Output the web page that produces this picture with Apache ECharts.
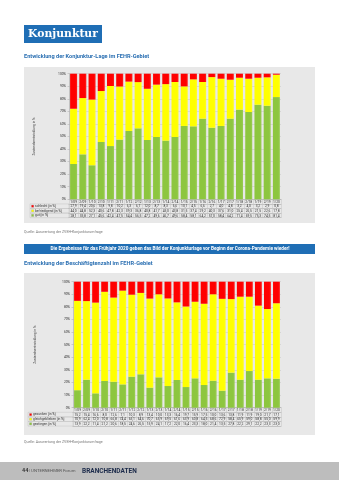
<!DOCTYPE html>
<html><head><meta charset="utf-8">
<script src="https://cdn.jsdelivr.net/npm/echarts@6/dist/echarts.min.js"></script>
<style>html,body{margin:0;padding:0;background:#fff}#c{width:339px;height:480px}</style>
</head><body><div id="c"></div>
<script>
const categories = ['1/09','2/09','1/10','2/10','1/11','2/11','1/12','2/12','1/13','2/13','1/14','2/14','1/15','2/15','1/16','2/16','1/17','2/17','1/18','2/18','1/19','2/19','1/20'];
// Chart 1: Konjunktur-Lage
const schlecht     = [27.9,19.4,20.6,13.8,9.8,10.2,6.3,6.7,12.0,8.7,8.3,6.6,10.1,4.5,6.6,2.7,4.0,4.8,3.2,4.0,3.2,2.9,0.8];
const befriedigend = [44.0,44.8,52.3,40.6,47.8,42.3,39.3,36.8,40.8,41.7,45.0,43.8,31.5,37.4,29.2,40.3,37.6,31.0,25.4,26.5,21.5,22.6,17.8];
const gut          = [28.1,35.8,27.1,45.6,42.4,47.5,54.4,56.5,47.2,49.6,46.7,49.6,58.4,58.1,64.2,57.0,58.4,64.2,71.4,69.5,75.3,74.5,81.4];
// Chart 2: Beschäftigtenzahl
const gesunken        = [15.2,15.4,16.6,8.0,12.6,7.1,10.3,8.9,13.4,10.0,13.3,16.4,19.7,15.9,17.5,10.0,13.6,13.8,11.9,11.9,19.0,21.7,17.1];
const gleichgeblieben = [70.9,62.4,72.0,70.8,66.8,74.4,65.1,64.6,70.7,65.9,69.5,61.6,63.9,60.8,64.5,68.6,72.9,58.4,65.9,59.0,58.8,55.0,59.9];
const gestiegen       = [13.9,22.2,11.4,21.2,20.6,18.5,24.6,26.5,15.9,24.1,17.2,22.0,16.4,23.3,18.0,21.4,13.5,27.8,22.2,29.1,22.2,23.3,23.0];

const RED='#ff0000', YEL='#ffff00', GRN='#8dc63f';
const FONT='Roboto, "Noto Sans", sans-serif';
const fmt = v => v.toFixed(1).replace('.', ',');
const RH = 4.6;

const grids = [
  {left:69, right:58, top:73.7, height:125.6},
  {left:73, right:58, top:281.7, height:126}
];

function barColor(c){
  return {type:'linear',x:0,y:0,x2:1,y2:0,colorStops:[
    {offset:0,color:c},{offset:0.75,color:c},{offset:1,color:echarts.color.lift(c,0.12)}]};
}

const xAxes=[], yAxes=[], series=[], graphics=[];

function buildChart(g, rows){
  const base = xAxes.length;
  const common = {type:'category', gridIndex:g, position:'bottom', boundaryGap:true,
    axisLine:{show:true,lineStyle:{color:'#a8a8a8',width:0.6}},
    axisTick:{show:true,interval:0,length:RH,lineStyle:{color:'#c4c4c4',width:0.5}},
    axisLabel:{interval:0,fontSize:3.3,margin:0.9,color:'#333',fontFamily:FONT,lineHeight:3.4}};
  xAxes.push(Object.assign({}, common, {data:categories, offset:0}));
  rows.forEach((r,i)=>{
    xAxes.push(Object.assign({}, common, {data:r.data.map(fmt), offset:RH*(i+1)}));
  });
  xAxes.push(Object.assign({}, common, {data:categories, offset:RH*(rows.length+1), axisTick:{show:false}, axisLabel:{show:false}}));
  yAxes.push({type:'value', gridIndex:g, min:0, max:100, interval:10,
    name:'Zustandsentwicklung in %', nameLocation:'middle', nameGap: g===0?33:36, nameRotate:90,
    nameTextStyle:{fontSize:3.3,color:'#333',fontFamily:FONT},
    axisLine:{show:true,lineStyle:{color:'#a8a8a8',width:0.6}},
    axisTick:{show:true,length:1.5,lineStyle:{color:'#a8a8a8',width:0.5}},
    axisLabel:{formatter:'{value}%',fontSize:3.3,margin:3,color:'#333',fontFamily:FONT},
    splitLine:{lineStyle:{color:'#c9c9c9',width:0.6}}});
  rows.slice().reverse().forEach(r=>{
    series.push({type:'bar', name:r.name, stack:'s'+g, xAxisIndex:base, yAxisIndex:g,
      barWidth:'76%', data:r.data, itemStyle:{color:barColor(r.color)}});
  });
  const gr = grids[g];
  const y0 = gr.top + gr.height;
  const colLeft = g===0 ? 30 : 28;
  rows.forEach((r,i)=>{
    const yt = y0 + RH*(i+1);
    graphics.push({type:'rect', shape:{x:colLeft,y:yt,width:gr.left-colLeft,height:RH},
      style:{fill:'none',stroke:'#c4c4c4',lineWidth:0.5}});
    graphics.push({type:'rect', shape:{x:colLeft+1.5,y:yt+RH/2-1.1,width:2.2,height:2.2},
      style:{fill:r.color,stroke:'#888',lineWidth:0.2}});
    graphics.push({type:'text', x:colLeft+5, y:yt+RH/2,
      style:{text:r.name,fontSize:3.3,fill:'#333',fontFamily:FONT,verticalAlign:'middle'}});
  });
}

graphics.push({type:'rect', z:-10, shape:{x:24,y:67,width:291,height:156}, style:{fill:'#e8e8e8'}});
graphics.push({type:'rect', z:-10, shape:{x:24,y:273,width:291,height:162}, style:{fill:'#e8e8e8'}});

buildChart(0, [
  {name:'schlecht [in %]', color:RED, data:schlecht},
  {name:'befriedigend [in %]', color:YEL, data:befriedigend},
  {name:'gut [in %]', color:GRN, data:gut}
]);
buildChart(1, [
  {name:'gesunken [in %]', color:RED, data:gesunken},
  {name:'gleichgeblieben [in %]', color:YEL, data:gleichgeblieben},
  {name:'gestiegen [in %]', color:GRN, data:gestiegen}
]);

graphics.push({type:'rect', shape:{x:24,y:25,width:78,height:18}, style:{fill:'#1f6eb5'}});
graphics.push({type:'text', x:63, y:34.5, style:{text:'Konjunktur', font:'bold 10.8px "DejaVu Serif"', fill:'#fff', align:'center', verticalAlign:'middle'}});
graphics.push({type:'text', x:24, y:56.5, style:{text:'Entwicklung der Konjunktur-Lage im FEHR-Gebiet', font:'bold 5.6px Roboto', fill:'#2a6fb2', verticalAlign:'middle'}});
graphics.push({type:'text', x:24, y:232.5, style:{text:'Quelle: Auswertung der ZVEH-Konjunkturumfrage', font:'3.6px Roboto', fill:'#777', verticalAlign:'middle'}});
graphics.push({type:'rect', shape:{x:24,y:244,width:291,height:10}, style:{fill:'#1f6eb5'}});
graphics.push({type:'text', x:170, y:249, style:{text:'Die Ergebnisse für das Frühjahr 2020 geben das Bild der Konjunkturlage vor Beginn der Corona-Pandemie wieder!', font:'bold 4.7px Roboto', fill:'#fff', align:'center', verticalAlign:'middle'}});
graphics.push({type:'text', x:24, y:264, style:{text:'Entwicklung der Beschäftigtenzahl im FEHR-Gebiet', font:'bold 5.6px Roboto', fill:'#2a6fb2', verticalAlign:'middle'}});
graphics.push({type:'text', x:24, y:442.5, style:{text:'Quelle: Auswertung der ZVEH-Konjunkturumfrage', font:'3.6px Roboto', fill:'#777', verticalAlign:'middle'}});
graphics.push({type:'rect', shape:{x:0,y:462,width:339,height:18}, style:{fill:'#bdbdbd'}});
graphics.push({type:'text', x:22, y:471, style:{text:'44', font:'bold 5.5px Roboto', fill:'#333', verticalAlign:'middle'}});
graphics.push({type:'text', x:29, y:471, style:{text:'| UNTERNEHMER Forum', font:'4.3px Roboto', fill:'#555', verticalAlign:'middle'}});
graphics.push({type:'text', x:82, y:471, style:{text:'BRANCHENDATEN', font:'bold 6.5px Roboto', fill:'#1b2a4a', verticalAlign:'middle'}});

const chart = echarts.init(document.getElementById('c'), null, {renderer:'canvas'});
chart.setOption({
  animation:false,
  backgroundColor:'#ffffff',
  grid: grids,
  xAxis: xAxes,
  yAxis: yAxes,
  series: series,
  graphic: graphics
});
</script></body></html>
